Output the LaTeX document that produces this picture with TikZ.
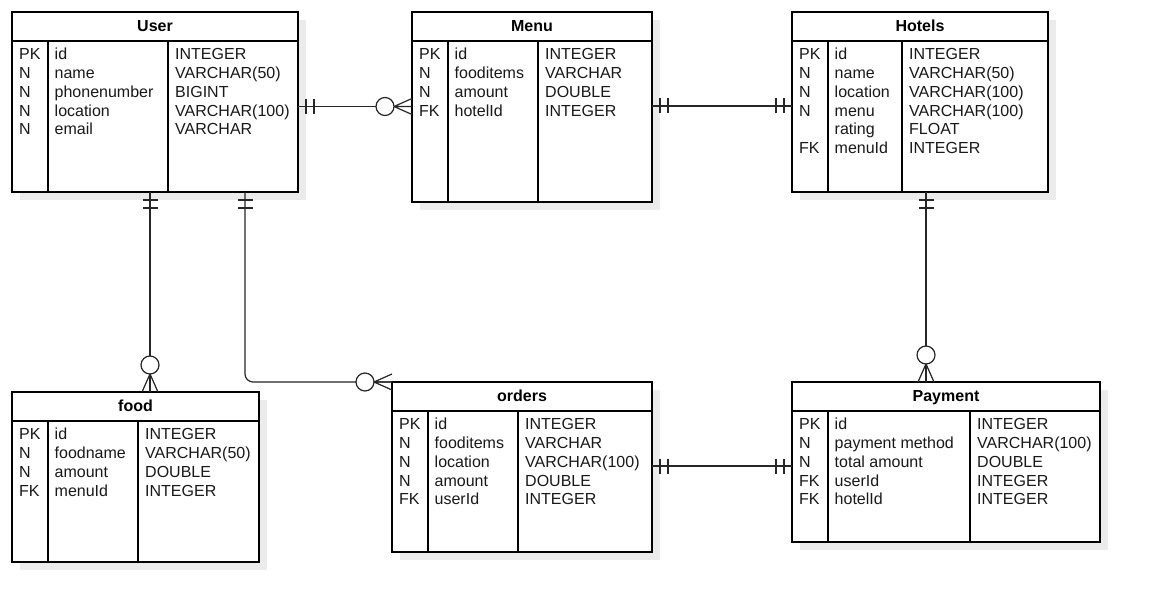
\documentclass[tikz,border=0pt]{standalone}
\usepackage{fontspec}
\setmainfont{Liberation Sans}
\usetikzlibrary{calc}
\tikzset{
  tbl/.style={draw=black, line width=1.4pt, fill=white, inner sep=0pt, outer sep=0pt, anchor=north west},
  tline/.style={draw=black, line width=1.4pt},
  shadowbox/.style={fill=black!8, draw=none},
  ttl/.style={font=\bfseries\fontsize{16}{19}\selectfont, inner sep=0pt, anchor=base},
  cell/.style={font=\fontsize{16}{19}\selectfont, inner sep=0pt, anchor=base west, text=black!90},
  conn/.style={draw=black!85, line width=1.2pt},
}
\newcommand\ertab[9]{%
  \fill[shadowbox] (#3+8,#4+8) rectangle (#5+8,#6+8);
  \node[tbl, minimum width=#5-#3, minimum height=#6-#4] (#1) at (#3,#4) {};
  \draw[tline] (#3,#4+29) -- (#5,#4+29) (#7,#4+29) -- (#7,#6) (#8,#4+29) -- (#8,#6);
  \node[ttl] (#1-title) at ({(#3+#5)/2},#4+19.5) {#2};
  \foreach \k/\f/\t [count=\i from 0] in {#9} {
    \node[cell] (#1-k\i) at (#3+7, #4+47.7+18.8*\i) {\k};
    \node[cell] (#1-f\i) at (#7+6.5, #4+47.7+18.8*\i) {\f};
    \node[cell] (#1-t\i) at (#8+7, #4+47.7+18.8*\i) {\t};
  }%
}
\newcommand\onemark[2]{\draw[conn, shift={(#1)}, rotate=#2] (8,-7.5) -- (8,7.5) (16,-7.5) -- (16,7.5);}
\newcommand\manymark[2]{\draw[conn, shift={(#1)}, rotate=#2] (-18,0) -- (0,-8) (-18,0) -- (0,8) (-18,0) -- (0,0);
  \draw[conn, fill=white, shift={(#1)}, rotate=#2] (-27,0) circle[radius=9];}
\begin{document}
\begin{tikzpicture}[x=1pt, y=-1pt]
\useasboundingbox (0,0) rectangle (1150,612);
\fill[white] (0,0) rectangle (1150,612);

\ertab{user}{User}{12}{12}{298}{192}{48}{168}{PK/id/INTEGER, N/name/VARCHAR(50), N/phonenumber/BIGINT, N/location/VARCHAR(100), N/email/VARCHAR}
\ertab{menu}{Menu}{412}{12}{652}{202}{448}{538}{PK/id/INTEGER, N/fooditems/VARCHAR, N/amount/DOUBLE, FK/hotelId/INTEGER}
\ertab{hotels}{Hotels}{792}{12}{1048}{192}{828}{902}{PK/id/INTEGER, N/name/VARCHAR(50), N/location/VARCHAR(100), N/menu/VARCHAR(100), {}/rating/FLOAT, FK/menuId/INTEGER}
\ertab{food}{food}{12}{392}{259}{562}{48}{138}{PK/id/INTEGER, N/foodname/VARCHAR(50), N/amount/DOUBLE, FK/menuId/INTEGER}
\ertab{orders}{orders}{392}{382}{652}{552}{428}{518}{PK/id/INTEGER, N/fooditems/VARCHAR, N/location/VARCHAR(100), N/amount/DOUBLE, FK/userId/INTEGER}
\ertab{payment}{Payment}{792}{382}{1100}{542}{828}{970}{PK/id/INTEGER, N/payment method/VARCHAR(100), N/total amount/DOUBLE, FK/userId/INTEGER, FK/hotelId/INTEGER}

% User -- Menu
\coordinate (a1) at ($(user.north east)+(0,94.5)$);
\coordinate (b1) at ($(menu.north west)+(0,94.5)$);
\draw[conn] (a1) -- (b1);
\onemark{a1}{0}
\manymark{b1}{0}

% Menu -- Hotels
\coordinate (a2) at ($(menu.north east)+(0,94)$);
\coordinate (b2) at ($(hotels.north west)+(0,94)$);
\draw[conn] (a2) -- (b2);
\onemark{a2}{0}
\onemark{b2}{180}

% User -- food
\coordinate (a3) at ($(user.south west)+(138,0)$);
\coordinate (b3) at ($(food.north west)+(138,0)$);
\draw[conn] (a3) -- (b3);
\onemark{a3}{-90}
\manymark{b3}{-90}

% User -- orders
\coordinate (a4) at ($(user.south west)+(233,0)$);
\coordinate (b4) at (orders.north west);
\draw[conn, rounded corners=8] (a4) |- (b4);
\onemark{a4}{-90}
\manymark{b4}{0}

% orders -- Payment
\coordinate (a5) at ($(orders.north east)+(0,84)$);
\coordinate (b5) at ($(payment.north west)+(0,84)$);
\draw[conn] (a5) -- (b5);
\onemark{a5}{0}
\onemark{b5}{180}

% Hotels -- Payment
\coordinate (a6) at ($(hotels.south west)+(134,0)$);
\coordinate (b6) at ($(payment.north west)+(134,0)$);
\draw[conn] (a6) -- (b6);
\onemark{a6}{-90}
\manymark{b6}{-90}
\end{tikzpicture}
\end{document}
